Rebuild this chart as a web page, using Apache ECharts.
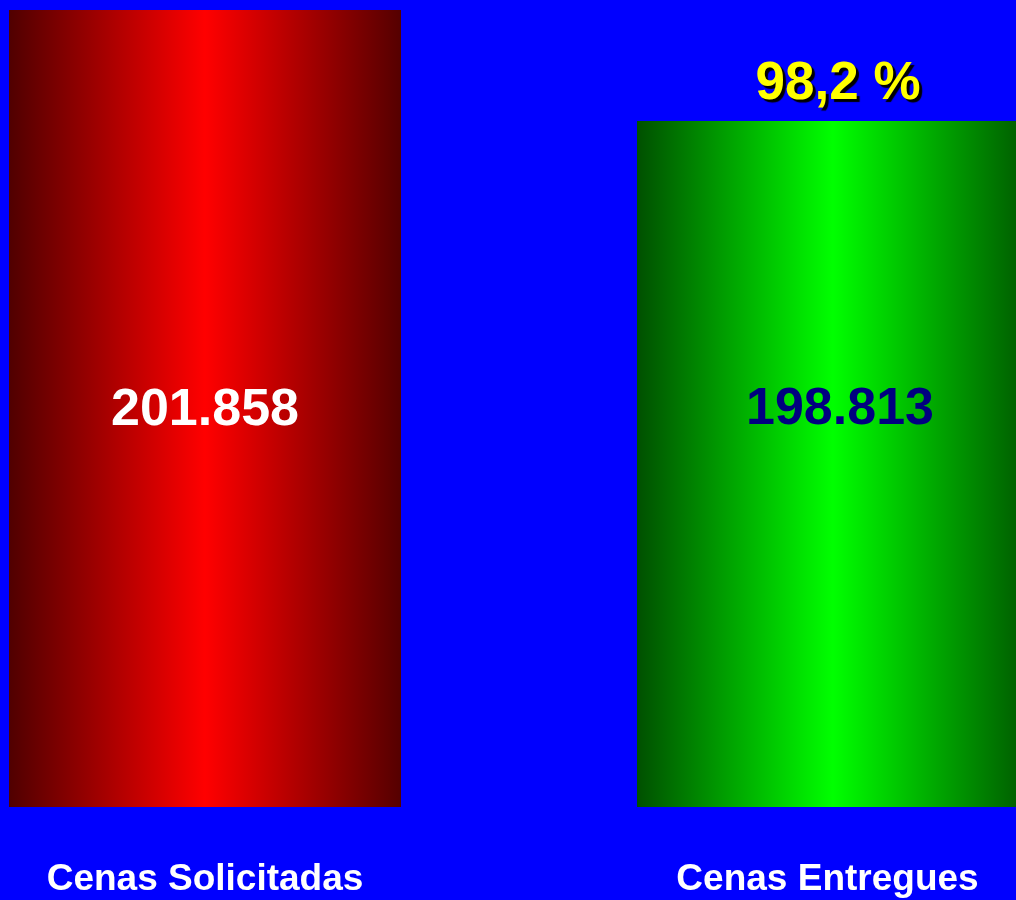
<!DOCTYPE html>
<html>
<head>
<meta charset="utf-8">
<script src="https://cdn.jsdelivr.net/npm/echarts@6/dist/echarts.min.js"></script>
<style>html,body{margin:0;padding:0;background:#0000ff;}#c{width:1016px;height:900px;}</style>
</head>
<body>
<div id="c"></div>
<script>
const categories = ['Cenas Solicitadas', 'Cenas Entregues'];
const values = [201858, 198813];
const pctLabels = ['', '98,2 %'];
const axisMin = 180000;
const axisMax = 201858;

const FONT = "'Liberation Sans', Arial, sans-serif";
function fmt(v) { return String(v).replace(/\B(?=(\d{3})+(?!\d))/g, '.'); }
function grad(edgeL, mid, edgeR) {
  return new echarts.graphic.LinearGradient(0, 0, 1, 0, [
    { offset: 0, color: edgeL }, { offset: 0.5, color: mid }, { offset: 1, color: edgeR }
  ]);
}
const barStyles = [
  { color: grad('#500000', '#ff0000', '#550000') },
  { color: grad('#005000', '#00ff00', '#005800') }
];
const valueLabelStyles = [
  { color: '#ffffff', offset: [0, 2] },
  { color: '#000080', offset: [7, -54] }
];

const chart = echarts.init(document.getElementById('c'), null, { renderer: 'canvas' });
chart.setOption({
  backgroundColor: '#0000ff',
  animation: false,
  grid: { left: -109, width: 1256, top: 10, bottom: 93, containLabel: false, outerBoundsMode: 'none' },
  xAxis: {
    type: 'category',
    data: categories,
    axisLine: { show: false }, axisTick: { show: false },
    axisLabel: {
      margin: 54,
      formatter: function (v, i) { return i === 1 ? '{s|' + v + '}' : '{n|' + v + '}'; },
      rich: {
        n: { color: '#ffffff', fontSize: 37, fontWeight: 'bold', fontFamily: FONT },
        s: { color: '#ffffff', fontSize: 37, fontWeight: 'bold', fontFamily: FONT, padding: [0, 11, 0, 0] }
      }
    }
  },
  yAxis: {
    type: 'value', min: axisMin, max: axisMax,
    show: false, splitLine: { show: false }
  },
  series: [
    {
      type: 'bar',
      barWidth: 392,
      data: values.map((v, i) => ({
        value: v,
        itemStyle: barStyles[i],
        label: {
          show: true, position: 'inside', formatter: fmt(v),
          color: valueLabelStyles[i].color, offset: valueLabelStyles[i].offset,
          fontSize: 52, fontWeight: 'bold', fontFamily: FONT
        }
      }))
    },
    {
      type: 'bar',
      barWidth: 392,
      barGap: '-100%',
      itemStyle: { color: 'rgba(0,0,0,0)' },
      silent: true,
      data: values.map((v, i) => ({
        value: v,
        label: {
          show: pctLabels[i] !== '', position: 'top', distance: 10, offset: [5, 0],
          formatter: pctLabels[i],
          color: '#ffff00', fontSize: 53, fontWeight: 'bold', fontFamily: FONT,
          textShadowColor: '#000000', textShadowOffsetX: 3, textShadowOffsetY: 3, textShadowBlur: 1
        }
      }))
    }
  ]
});
</script>
</body>
</html>
